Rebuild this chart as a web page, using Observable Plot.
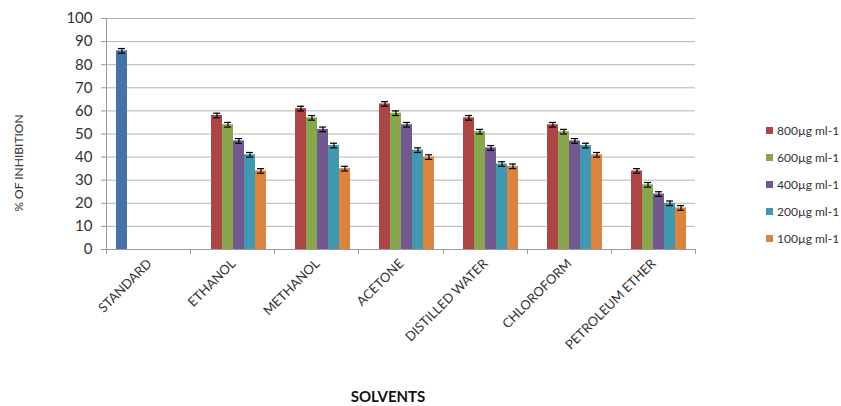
<!DOCTYPE html>
<html>
<head>
<meta charset="utf-8">
<script src="https://cdn.jsdelivr.net/npm/d3@7"></script>
<script src="https://cdn.jsdelivr.net/npm/@observablehq/plot@0.6"></script>
<style>
  html, body { margin: 0; padding: 0; background: #fff; }
  #wrap { position: relative; width: 841px; height: 406px; font-family: Lato, "Open Sans", sans-serif; color: #333; }
  #wrap svg { position: absolute; left: 0; top: 0; }
  .ylab { position: absolute; left: 18px; top: 163px; transform: translate(-50%, -50%) rotate(-90deg); font-size: 12px; white-space: nowrap; color: #333; }
  .xlab { position: absolute; left: 388px; top: 396px; transform: translate(-50%, -50%); font-size: 15px; font-weight: bold; white-space: nowrap; color: #111; }
  .legend { position: absolute; left: 766px; top: 117px; font-size: 12px; }
  .legend div { height: 27px; display: flex; align-items: center; white-space: nowrap; }
  .legend span.sw { display: inline-block; width: 7px; height: 7px; margin-right: 4px; }
</style>
</head>
<body>
<div id="wrap"></div>
<script>
const categories = ["STANDARD", "ETHANOL", "METHANOL", "ACETONE", "DISTILLED WATER", "CHLOROFORM", "PETROLEUM ETHER"];
const seriesNames = ["Standard", "800µg ml-1", "600µg ml-1", "400µg ml-1", "200µg ml-1", "100µg ml-1"];
const legendSeries = ["800µg ml-1", "600µg ml-1", "400µg ml-1", "200µg ml-1", "100µg ml-1"];
const colors = ["#4672a8", "#aa4643", "#89a54e", "#71588f", "#4198af", "#db843d"];

// values per category, in series order (null = no bar)
const standardValues = [86, null, null, null, null, null, null];
const s800 = [null, 58, 61, 63, 57, 54, 34];
const s600 = [null, 54, 57, 59, 51, 51, 28];
const s400 = [null, 47, 52, 54, 44, 47, 24];
const s200 = [null, 41, 45, 43, 37, 45, 20];
const s100 = [null, 34, 35, 40, 36, 41, 18];
const errStandard = [1, null, null, null, null, null, null];
const err800 = [null, 1, 1, 1, 1, 1, 1];
const err600 = [null, 1, 1, 1, 1, 1, 1];
const err400 = [null, 1, 1, 1, 1, 1, 1];
const err200 = [null, 1, 1, 1, 1, 1, 1];
const err100 = [null, 1, 1, 1, 1, 1, 1];
const yTicks = [0, 10, 20, 30, 40, 50, 60, 70, 80, 90, 100];

const seriesValues = [standardValues, s800, s600, s400, s200, s100];
const seriesErrors = [errStandard, err800, err600, err400, err200, err100];
const rows = [];
categories.forEach((cat, ci) => {
  seriesNames.forEach((s, si) => {
    const v = seriesValues[si][ci];
    if (v != null) rows.push({cat, series: s, value: v, lo: v - seriesErrors[si][ci], hi: v + seriesErrors[si][ci]});
  });
});

const plot = Plot.plot({
  width: 841,
  height: 406,
  marginLeft: 106,
  marginRight: 146,
  marginTop: 18,
  marginBottom: 157,
  style: {fontFamily: "Lato, 'Open Sans', sans-serif", background: "transparent", color: "#333"},
  fx: {domain: categories, padding: 0, label: null},
  x: {domain: seriesNames, paddingInner: 0, paddingOuter: 0.7, axis: null},
  y: {domain: [0, 100], label: null},
  color: {domain: seriesNames, range: colors},
  marks: [
    Plot.gridY(yTicks, {stroke: "#b4b4b4", strokeOpacity: 1}),
    Plot.axisY(yTicks, {tickSize: 6, tickPadding: 9, stroke: "#9a9a9a", fontSize: 15, label: null, fill: "#333"}),
    Plot.axisFx({anchor: "bottom", tickSize: 0, tickRotate: -45, tickPadding: 12, fontSize: 13, label: null, fill: "#333"}),
    Plot.barY(rows, {fx: "cat", x: "series", y: "value", fill: "series"}),
    Plot.ruleX(rows, {fx: "cat", x: "series", y1: "lo", y2: "hi", stroke: "#000", strokeWidth: 1.2}),
    Plot.tickY(rows, {fx: "cat", x: "series", y: "lo", stroke: "#000", strokeWidth: 1.2, insetLeft: 2, insetRight: 2}),
    Plot.tickY(rows, {fx: "cat", x: "series", y: "hi", stroke: "#000", strokeWidth: 1.2, insetLeft: 2, insetRight: 2}),
    Plot.ruleY([0], {stroke: "#9a9a9a"})
  ]
});

const wrap = document.getElementById("wrap");
wrap.appendChild(plot);

// y axis domain line and category boundary ticks from the plot's own scales
const ys = plot.scale("y");
const fxs = plot.scale("fx");
const yScale = d3.scaleLinear(ys.domain, ys.range);
const fxScale = d3.scaleBand(fxs.domain, fxs.range).padding(0);
const svg = d3.select(plot);
const g = svg.append("g").attr("stroke", "#9a9a9a").attr("stroke-width", 1);
const x0 = fxScale(categories[0]);
g.append("line").attr("x1", x0 + 0.5).attr("x2", x0 + 0.5).attr("y1", yScale(100)).attr("y2", yScale(0) + 5);
categories.forEach(c => {
  const xb = Math.round(fxScale(c) + fxScale.bandwidth()) + 0.5;
  g.append("line").attr("x1", xb).attr("x2", xb).attr("y1", yScale(0)).attr("y2", yScale(0) + 5);
});

const yl = document.createElement("div");
yl.className = "ylab"; yl.textContent = "% OF INHIBITION";
wrap.appendChild(yl);
const xl = document.createElement("div");
xl.className = "xlab"; xl.textContent = "SOLVENTS";
wrap.appendChild(xl);
const lg = document.createElement("div");
lg.className = "legend";
legendSeries.forEach(s => {
  const row = document.createElement("div");
  const sw = document.createElement("span");
  sw.className = "sw";
  sw.style.background = colors[seriesNames.indexOf(s)];
  row.appendChild(sw);
  row.appendChild(document.createTextNode(s));
  lg.appendChild(row);
});
wrap.appendChild(lg);
</script>
</body>
</html>
